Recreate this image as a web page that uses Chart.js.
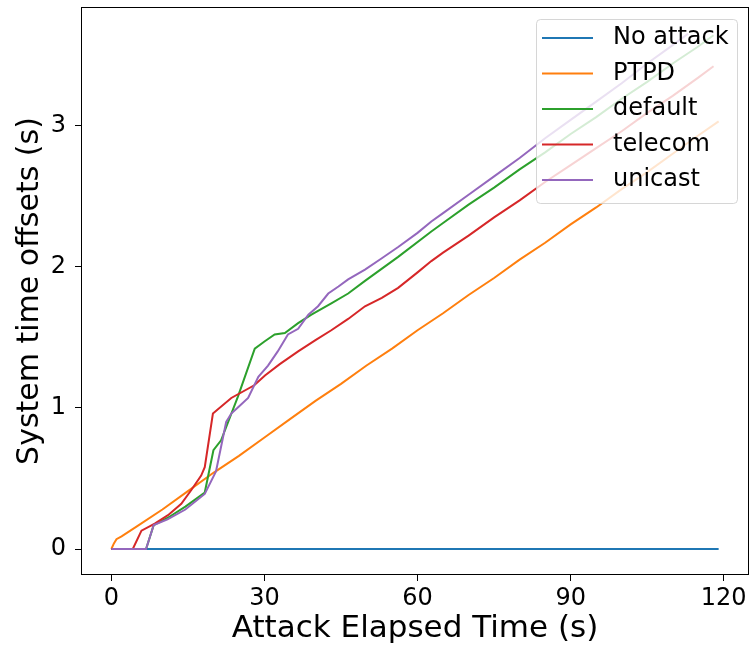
<!DOCTYPE html>
<html>
<head>
<meta charset="utf-8">
<script src="https://cdn.jsdelivr.net/npm/chart.js@4"></script>
<style>
  body { margin: 0; background: #fff; }
  canvas { display: block; }
</style>
</head>
<body>
<canvas id="grafico" width="750" height="648"></canvas>
<script>
// valores (tempo em s, offset em s)
const noAttackT = [0, 119];
const noAttackV = [0, 0];

const ptpdT = [0, 0.5, 1, 2, 5, 10, 15, 20, 25, 30, 35, 40, 45, 50, 55, 60, 65, 70, 75, 80, 85, 90, 95, 100, 105, 110, 115, 119];
const ptpdV = [0, 0.04, 0.07, 0.09, 0.16, 0.28, 0.41, 0.54, 0.66, 0.79, 0.92, 1.05, 1.17, 1.30, 1.42, 1.55, 1.67, 1.80, 1.92, 2.05, 2.17, 2.30, 2.42, 2.55, 2.67, 2.80, 2.93, 3.03];

const defaultT = [0, 6.8, 8.3, 11, 14.5, 18.3, 20, 21.5, 24.8, 28.1, 30, 32, 34, 36.6, 39.2, 43.1, 46.4, 49.7, 56.2, 62.7, 65, 70, 75, 80, 85, 90, 95, 100, 105, 110, 115, 118];
const defaultV = [0, 0, 0.17, 0.22, 0.30, 0.40, 0.70, 0.77, 1.08, 1.42, 1.47, 1.52, 1.53, 1.60, 1.66, 1.74, 1.81, 1.90, 2.07, 2.25, 2.31, 2.44, 2.56, 2.69, 2.81, 2.94, 3.06, 3.19, 3.31, 3.44, 3.56, 3.64];

const telecomT = [0, 4.2, 5.9, 8.5, 11.1, 13.7, 15.7, 17.6, 18.3, 19.9, 23.5, 28, 30.1, 33, 36.6, 40, 43.1, 46.4, 49.7, 53, 56.2, 60, 62.7, 65, 70, 75, 80, 85, 90, 95, 100, 105, 110, 115, 118];
const telecomV = [0, 0, 0.13, 0.18, 0.24, 0.32, 0.42, 0.52, 0.58, 0.96, 1.07, 1.16, 1.23, 1.31, 1.40, 1.48, 1.55, 1.63, 1.72, 1.78, 1.85, 1.96, 2.04, 2.10, 2.22, 2.35, 2.47, 2.60, 2.72, 2.84, 2.96, 3.09, 3.21, 3.34, 3.42];

const unicastT = [0, 6.8, 8.3, 11, 14.5, 18.3, 20.5, 22.5, 23.5, 25, 26.8, 28.8, 30.7, 32.6, 34.6, 36.6, 38.6, 40.5, 42.5, 44.5, 46.4, 49.7, 53, 56.2, 60, 62.7, 65, 70, 75, 80, 85, 90, 95, 100, 105, 110, 113];
const unicastV = [0, 0, 0.17, 0.21, 0.28, 0.39, 0.55, 0.90, 0.96, 1.01, 1.07, 1.22, 1.30, 1.40, 1.52, 1.56, 1.66, 1.72, 1.81, 1.86, 1.91, 1.98, 2.06, 2.14, 2.24, 2.32, 2.38, 2.51, 2.64, 2.77, 2.91, 3.04, 3.17, 3.30, 3.44, 3.57, 3.65];

const xTicks = [0, 30, 60, 90, 120];
const yTicks = [0, 1, 2, 3];

const nomes = ['No attack', 'PTPD', 'default', 'telecom', 'unicast'];
const cores = ['#1f77b4', '#ff7f0e', '#2ca02c', '#d62728', '#9467bd'];
const series = [
    [noAttackT, noAttackV],
    [ptpdT, ptpdV],
    [defaultT, defaultV],
    [telecomT, telecomV],
    [unicastT, unicastV]
];

function juntaPontos(ts, vs) {
    return ts.map((t, i) => ({ x: t, y: vs[i] }));
}

const fonte = 'DejaVu Sans';

// legenda dentro da área do gráfico, estilo matplotlib
const legendaPlugin = {
    id: 'legendaPlugin',
    afterDatasetsDraw: (chart) => {
        const { ctx, chartArea: { top, right } } = chart;
        const w = 201, h = 184;
        const x0 = right - 12 - w;
        const y0 = top + 12;
        ctx.save();
        ctx.beginPath();
        ctx.roundRect(x0 + 0.5, y0 + 0.5, w, h, 4);
        ctx.fillStyle = 'rgba(255,255,255,0.8)';
        ctx.fill();
        ctx.strokeStyle = 'rgba(204,204,204,0.8)';
        ctx.lineWidth = 1;
        ctx.stroke();
        ctx.font = '24px "' + fonte + '"';
        ctx.textBaseline = 'middle';
        ctx.textAlign = 'left';
        nomes.forEach((nome, i) => {
            const yy = y0 + 19 + i * 35.5;
            ctx.strokeStyle = cores[i];
            ctx.lineWidth = 2;
            ctx.beginPath();
            ctx.moveTo(x0 + 6, yy);
            ctx.lineTo(x0 + 57, yy);
            ctx.stroke();
            ctx.fillStyle = '#000';
            ctx.fillText(nome, x0 + 77, yy);
        });
        ctx.restore();
    },
    afterDraw: (chart) => {
        const { ctx, chartArea: { top, bottom, left, right } } = chart;
        ctx.save();
        ctx.strokeStyle = '#000';
        ctx.lineWidth = 1;
        ctx.strokeRect(left + 0.5, top + 0.5, right - left - 1, bottom - top - 1);
        ctx.restore();
    }
};

function zeraPadding(s) {
    s.paddingTop = 0;
    s.paddingBottom = 0;
    s.paddingLeft = 0;
    s.paddingRight = 0;
}

const config = {
    type: 'line',
    data: {
        datasets: series.map((s, i) => ({
            label: nomes[i],
            data: juntaPontos(s[0], s[1]),
            borderColor: cores[i],
            backgroundColor: cores[i],
            borderWidth: 2,
            pointRadius: 0,
            tension: 0,
            fill: false,
            order: nomes.length - i
        }))
    },
    options: {
        responsive: false,
        animation: false,
        devicePixelRatio: 1,
        layout: { padding: { top: 7, right: 1, left: 0, bottom: 0 } },
        plugins: {
            legend: { display: false },
            tooltip: { enabled: false }
        },
        scales: {
            x: {
                type: 'linear',
                min: -5.95,
                max: 124.95,
                afterBuildTicks: s => { s.ticks = xTicks.map(v => ({ value: v })); },
                afterFit: s => { s.height = 73; zeraPadding(s); },
                grid: { drawOnChartArea: false, tickLength: 6, tickColor: '#000', tickWidth: 1 },
                border: { display: false },
                ticks: { color: '#000', padding: 3, maxRotation: 0, font: { family: fonte, size: 24 } },
                title: { display: true, text: 'Attack Elapsed Time (s)', color: '#000', padding: { top: 0, bottom: 0 }, font: { family: fonte, size: 31 } }
            },
            y: {
                type: 'linear',
                min: -0.184,
                max: 3.84,
                afterBuildTicks: s => { s.ticks = yTicks.map(v => ({ value: v })); },
                afterFit: s => { s.width = 81; zeraPadding(s); },
                grid: { drawOnChartArea: false, tickLength: 6, tickColor: '#000', tickWidth: 1 },
                border: { display: false },
                ticks: { color: '#000', padding: 9, font: { family: fonte, size: 24 } },
                title: { display: true, text: 'System time offsets (s)', color: '#000', padding: { top: 12, bottom: 0 }, font: { family: fonte, size: 30 } }
            }
        }
    },
    plugins: [legendaPlugin]
};

const grafico = new Chart(document.getElementById('grafico'), config);
</script>
</body>
</html>
